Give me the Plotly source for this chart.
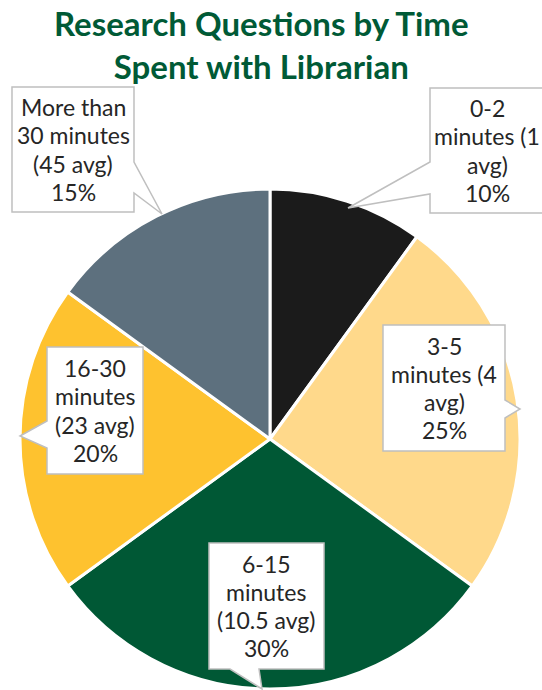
import plotly.graph_objects as go

# ---- data ----
categories = ["0-2 minutes (1 avg)", "3-5 minutes (4 avg)", "6-15 minutes (10.5 avg)",
              "16-30 minutes (23 avg)", "More than 30 minutes (45 avg)"]
values = [10, 25, 30, 20, 15]
label_lines = [
    ["0-2", "minutes (1", "avg)", "10%"],
    ["3-5", "minutes (4", "avg)", "25%"],
    ["6-15", "minutes", "(10.5 avg)", "30%"],
    ["16-30", "minutes", "(23 avg)", "20%"],
    ["More than", "30 minutes", "(45 avg)", "15%"],
]
colors = ["#1b1b1b", "#ffd98b", "#005835", "#fec22f", "#5d707e"]
title_text = "<b>Research Questions by Time<br>Spent with Librarian</b>"

W, H = 542, 690
TXT = "#262626"
EDGE = "#bfbfbf"
LINE_GAP = 28.3

# callout boxes (pixel geometry): box left, top, right, bottom; text center x; wedge points
callouts = [
    dict(box=(430, 88, 556, 213), cx=487, wedge=[(430, 162), (348, 208), (430, 194)], side="left"),
    dict(box=(383, 325, 505, 451), cx=444, wedge=[(505, 400), (520, 409), (505, 418)], side="right"),
    dict(box=(209, 543, 324, 669), cx=266, wedge=[(230, 669), (262, 689), (259, 669)], side="bottom"),
    dict(box=(47, 347, 143, 474), cx=95, wedge=[(47, 421), (20, 436), (47, 448)], side="left"),
    dict(box=(12, 87, 134, 212), cx=73, wedge=[(134, 162), (162, 214), (134, 193)], side="right"),
]


def px(x):
    return x / W


def py(y):
    return 1 - y / H


fig = go.Figure(go.Pie(
    labels=categories, values=values, sort=False, direction="clockwise", rotation=0,
    marker=dict(colors=colors, line=dict(color="white", width=3)),
    textinfo="none", hoverinfo="label+percent", showlegend=False,
    domain=dict(x=[px(20), px(520)], y=[py(689), py(189)]),
))

shapes = []
annotations = []
for c, lines in zip(callouts, label_lines):
    l, tp, r, b = c["box"]
    w = c["wedge"]
    side = c["side"]
    pts = [(l, tp), (r, tp)]
    if side == "right":
        pts += [w[0], w[1], w[2], (r, b), (l, b)]
    elif side == "bottom":
        pts += [(r, b), w[2], w[1], w[0], (l, b)]
    else:  # left
        pts += [(r, b), (l, b), w[2], w[1], w[0]]
    path = "M " + " L ".join(f"{px(x):.5f},{py(y):.5f}" for x, y in pts) + " Z"
    shapes.append(dict(type="path", xref="paper", yref="paper", path=path,
                       fillcolor="white", line=dict(color=EDGE, width=1.5), layer="above"))
    cy = (tp + b) / 2
    n = len(lines)
    for i, t in enumerate(lines):
        yy = cy + (i - (n - 1) / 2) * LINE_GAP
        annotations.append(dict(
            x=px(c["cx"]), y=py(yy), xref="paper", yref="paper",
            text=t, showarrow=False, xanchor="center", yanchor="middle", align="center",
            font=dict(family="Lato", size=23, color=TXT)))

annotations.append(dict(
    x=px(261), y=py(45), xref="paper", yref="paper", showarrow=False,
    text=title_text, xanchor="center", yanchor="middle", align="center",
    font=dict(family="Lato", size=33, color="#005a36")))

fig.update_layout(
    width=W, height=H, margin=dict(l=0, r=0, t=0, b=0),
    paper_bgcolor="white", plot_bgcolor="white",
    shapes=shapes, annotations=annotations,
)

fig.write_html("out.html", config={"displayModeBar": False},
               post_script="document.body.style.margin='0';")
